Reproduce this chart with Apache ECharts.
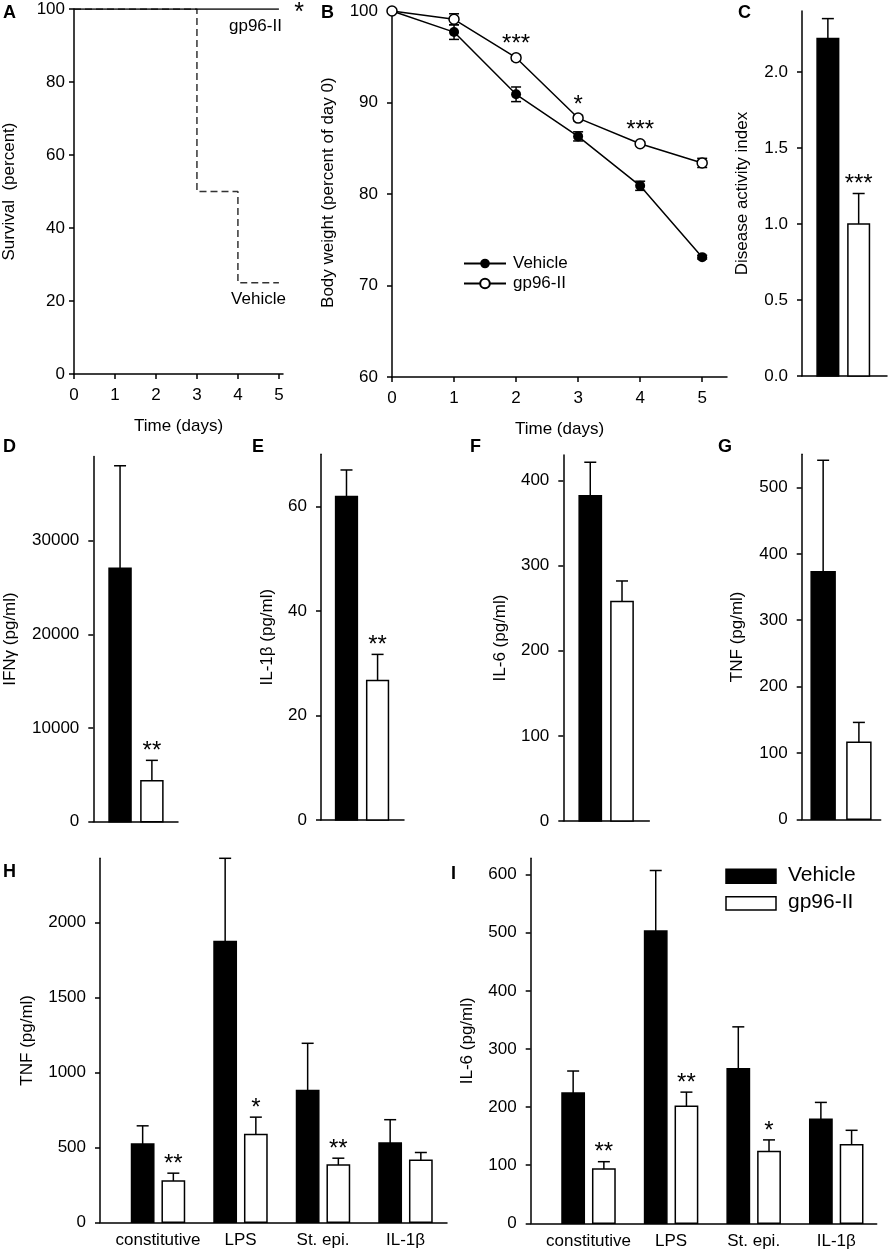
<!DOCTYPE html>
<html>
<head>
<meta charset="utf-8">
<script src="https://cdn.jsdelivr.net/npm/echarts@6/dist/echarts.min.js"></script>
<style>
  html, body { margin: 0; padding: 0; background: #fff; }
  #main { width: 888px; height: 1251px; }
</style>
</head>
<body>
<div id="main"></div>
<script>
// ---- data ----
// A: survival
var survVehDays = [0, 3, 4, 5];
var survVehicle = [100, 50, 25, 25];
var survGpDays = [0, 5];
var survGp96 = [100, 100];

// B: body weight
var bwDays = [0, 1, 2, 3, 4, 5];
var bwVehicle = [100, 97.7, 90.9, 86.3, 80.9, 73.1];
var bwVehicleErr = [0, 0.8, 0.8, 0.5, 0.5, 0.2];
var bwGp96 = [100, 99.1, 94.9, 88.3, 85.5, 83.4];
var bwGp96Err = [0, 0.6, 0.3, 0.3, 0.2, 0.5];
var bwSig = ['', '', '***', '*', '***', ''];

// C-G: vehicle vs gp96-II (mean, upper SEM)
var daiMean = [2.22, 1.0], daiErr = [0.13, 0.2], daiSig = ['', '***'];
var ifngMean = [27050, 4380], ifngErr = [10950, 2170], ifngSig = ['', '**'];
var il1bMean = [61.9, 26.7], il1bErr = [5.1, 5.0], il1bSig = ['', '**'];
var il6Mean = [382, 258], il6Err = [39.5, 24], il6Sig = ['', ''];
var tnfMean = [373, 116], tnfErr = [168, 30], tnfSig = ['', ''];

// H-I: ex vivo stimulation
var exCategories = ['constitutive', 'LPS', 'St. epi.', 'IL-1β'];
var exTnfVehicle = [522, 1875, 880, 530];
var exTnfVehicleErr = [122, 555, 315, 155];
var exTnfGp96 = [276, 586, 383, 415];
var exTnfGp96Err = [52, 116, 45, 51];
var exTnfSig = ['**', '*', '**', ''];
var exIl6Vehicle = [224, 503, 266, 179];
var exIl6VehicleErr = [38, 104, 72, 29];
var exIl6Gp96 = [93.5, 201.5, 123.4, 135];
var exIl6Gp96Err = [12.5, 24.2, 20.1, 25];
var exIl6Sig = ['**', '**', '*', ''];

// tick labels
var survXTicks = [0, 1, 2, 3, 4, 5], survYTicks = [0, 20, 40, 60, 80, 100];
var bwXTicks = [0, 1, 2, 3, 4, 5], bwYTicks = [60, 70, 80, 90, 100];
var daiTicks = [0, 0.5, 1.0, 1.5, 2.0];
var ifngTicks = [0, 10000, 20000, 30000];
var il1bTicks = [0, 20, 40, 60];
var il6Ticks = [0, 100, 200, 300, 400];
var tnfTicks = [0, 100, 200, 300, 400, 500];
var exTnfTicks = [0, 500, 1000, 1500, 2000];
var exIl6Ticks = [0, 100, 200, 300, 400, 500, 600];

var FONT = 'Liberation Sans, Arial, sans-serif';
var chart = echarts.init(document.getElementById('main'));

var grids = [
  { left: 74, top: 9, width: 209, height: 365 },      // A
  { left: 392, top: 8.3, width: 335, height: 368.7 }, // B
  { left: 802, top: 11, width: 85, height: 365 },     // C
  { left: 93.3, top: 456.4, width: 84.7, height: 365.3 }, // D
  { left: 321, top: 454.3, width: 83, height: 365.7 },    // E
  { left: 563.3, top: 455, width: 86, height: 366 },      // F
  { left: 801.7, top: 454.3, width: 79, height: 365 },    // G
  { left: 100, top: 858.3, width: 347, height: 364 },     // H
  { left: 530.7, top: 858.3, width: 346, height: 365 }    // I
];

var axLine = { show: true, onZero: false, lineStyle: { color: '#000', width: 1.5 } };

function xAx(gi, min, max, ticks, name, fmt) {
  return {
    type: 'value', gridIndex: gi, min: min, max: max,
    splitLine: { show: false }, axisLine: axLine,
    axisTick: ticks && !fmt ? { show: true, length: 5, lineStyle: { color: '#000', width: 1.5 }, customValues: ticks } : { show: false },
    axisLabel: ticks ? { show: true, customValues: ticks, margin: fmt ? 10 : 13, color: '#000', fontSize: 17, fontFamily: FONT, formatter: fmt } : { show: false },
    name: name || '', nameLocation: 'middle', nameGap: 44,
    nameTextStyle: { color: '#000', fontSize: 17, fontFamily: FONT }
  };
}

function yAx(gi, min, max, ticks, name, gap, dec, margin) {
  return {
    type: 'value', gridIndex: gi, min: min, max: max,
    splitLine: { show: false }, axisLine: axLine,
    axisTick: { show: true, length: 5, lineStyle: { color: '#000', width: 1.5 }, customValues: ticks },
    axisLabel: {
      show: true, customValues: ticks, margin: margin || 14, color: '#000', fontSize: 17, fontFamily: FONT,
      formatter: function (v) { return dec ? v.toFixed(dec) : String(v); }
    },
    name: name, nameLocation: 'middle', nameGap: gap,
    nameTextStyle: { color: '#000', fontSize: 17, fontFamily: FONT }
  };
}

function catFmt(v) { return exCategories[Math.round(v)] || ''; }

var xAxes = [
  xAx(0, 0, 5.1, survXTicks, 'Time (days)'),
  xAx(1, 0, 5.4, bwXTicks, 'Time (days)'),
  xAx(2, -0.84, 1.92),
  xAx(3, -0.84, 1.82),
  xAx(4, -0.82, 1.85),
  xAx(5, -0.85, 1.86),
  xAx(6, -0.6, 1.61),
  xAx(7, -0.703, 3.503, [0, 1, 2, 3], '', catFmt),
  xAx(8, -0.70, 3.49, [0, 1, 2, 3], '', catFmt)
];
var yAxes = [
  yAx(0, 0, 100, survYTicks, 'Survival  (percent)', 56, 0, 9),
  yAx(1, 60, 100.3, bwYTicks, 'Body weight (percent of day 0)', 55),
  yAx(2, 0, 2.4, daiTicks, 'Disease activity index', 51, 1),
  yAx(3, 0, 39000, ifngTicks, 'IFNγ (pg/ml)', 74),
  yAx(4, 0, 70, il1bTicks, 'IL-1β (pg/ml)', 45),
  yAx(5, 0, 430, il6Ticks, 'IL-6 (pg/ml)', 54),
  yAx(6, 0, 550, tnfTicks, 'TNF (pg/ml)', 56),
  yAx(7, 0, 2430, exTnfTicks, 'TNF (pg/ml)', 64),
  yAx(8, 0, 628, exIl6Ticks, 'IL-6 (pg/ml)', 55)
];

function starText(x, y, s) {
  return { type: 'text', x: x, y: y - 9,
    style: { text: s, font: '24px ' + FONT, align: 'center', verticalAlign: 'middle', fill: '#000' } };
}

// bars with one-sided error bar and significance stars
function barSeries(ax, means, errs, sigs, shift, wFrac, filled) {
  var data = means.map(function (m, i) { return [i, m, errs[i]]; });
  return {
    type: 'custom', xAxisIndex: ax, yAxisIndex: ax, clip: false, z: 3,
    data: data,
    renderItem: function (params, api) {
      var x = api.value(0) + shift;
      var base = api.coord([x, 0]);
      var top = api.coord([x, api.value(1)]);
      var hi = api.coord([x, api.value(1) + api.value(2)]);
      var w = api.size([wFrac, 0])[0];
      var cap = 12;
      var kids = [
        { type: 'line', shape: { x1: top[0], y1: top[1], x2: hi[0], y2: hi[1] }, style: { stroke: '#000', lineWidth: 1.5 } },
        { type: 'line', shape: { x1: hi[0] - cap / 2, y1: hi[1], x2: hi[0] + cap / 2, y2: hi[1] }, style: { stroke: '#000', lineWidth: 1.5 } },
        { type: 'rect', shape: { x: base[0] - w / 2, y: top[1], width: w, height: base[1] - top[1] },
          style: { fill: filled ? '#000' : '#fff', stroke: '#000', lineWidth: 1.5 } }
      ];
      var s = sigs && sigs[params.dataIndex];
      if (s) kids.push(starText(hi[0], hi[1], s));
      return { type: 'group', children: kids };
    }
  };
}

// two-sided error bars on line points
function errSeries(ax, xs, ys, es, sigs) {
  return {
    type: 'custom', xAxisIndex: ax, yAxisIndex: ax, clip: false, z: 1,
    data: xs.map(function (x, i) { return [x, ys[i], es[i]]; }),
    renderItem: function (params, api) {
      var lo = api.coord([api.value(0), api.value(1) - api.value(2)]);
      var hi = api.coord([api.value(0), api.value(1) + api.value(2)]);
      var kids = [];
      if (api.value(2) > 0) {
        kids.push({ type: 'line', shape: { x1: lo[0], y1: lo[1], x2: hi[0], y2: hi[1] }, style: { stroke: '#000', lineWidth: 1.5 } });
        kids.push({ type: 'line', shape: { x1: lo[0] - 5, y1: lo[1], x2: lo[0] + 5, y2: lo[1] }, style: { stroke: '#000', lineWidth: 1.5 } });
        kids.push({ type: 'line', shape: { x1: hi[0] - 5, y1: hi[1], x2: hi[0] + 5, y2: hi[1] }, style: { stroke: '#000', lineWidth: 1.5 } });
      }
      var s = sigs && sigs[params.dataIndex];
      if (s) {
        var p = api.coord([api.value(0), api.value(1)]);
        kids.push(starText(p[0], Math.min(hi[1], p[1] - 5) + 1, s));
      }
      return { type: 'group', children: kids };
    }
  };
}

// text placed next to a data point
function noteSeries(ax, pts, texts, dx, dy, size) {
  return {
    type: 'custom', xAxisIndex: ax, yAxisIndex: ax, clip: false, z: 5,
    data: pts,
    renderItem: function (params, api) {
      var p = api.coord([api.value(0), api.value(1)]);
      return { type: 'text', x: p[0] + dx, y: p[1] + dy,
        style: { text: texts[params.dataIndex], font: size + 'px ' + FONT, align: 'right', verticalAlign: 'middle', fill: '#000' } };
    }
  };
}

function pairs(xs, ys) { return xs.map(function (x, i) { return [x, ys[i]]; }); }

var series = [
  // A
  { type: 'line', name: 'A-vehicle', xAxisIndex: 0, yAxisIndex: 0, step: 'end', symbol: 'none',
    lineStyle: { color: '#333', width: 1.5, type: [7, 4] }, data: pairs(survVehDays, survVehicle), z: 2 },
  { type: 'line', name: 'A-gp96', xAxisIndex: 0, yAxisIndex: 0, symbol: 'none',
    lineStyle: { color: '#000', width: 1.5 }, data: pairs(survGpDays, survGp96), z: 3 },
  noteSeries(0, [[5, 100]], ['gp96-II'], 3, 17, 17),
  noteSeries(0, [[5, 25]], ['Vehicle'], 7, 17, 17),
  noteSeries(0, [[5, 100]], ['*'], 25, 4, 25),
  // B
  errSeries(1, bwDays, bwVehicle, bwVehicleErr),
  errSeries(1, bwDays, bwGp96, bwGp96Err, bwSig),
  { type: 'line', name: 'Vehicle', xAxisIndex: 1, yAxisIndex: 1, symbol: 'circle', symbolSize: 10,
    lineStyle: { color: '#000', width: 1.5 }, itemStyle: { color: '#000' }, data: pairs(bwDays, bwVehicle), z: 3 },
  { type: 'line', name: 'gp96-II', xAxisIndex: 1, yAxisIndex: 1, symbol: 'circle', symbolSize: 10,
    lineStyle: { color: '#000', width: 1.5 }, itemStyle: { color: '#fff', borderColor: '#000', borderWidth: 1.5 },
    data: pairs(bwDays, bwGp96), z: 4 },
  // C-G
  barSeries(2, [daiMean[0]], [daiErr[0]], [daiSig[0]], 0, 0.70, true),
  barSeries(2, [daiMean[1]], [daiErr[1]], [daiSig[1]], 1, 0.70, false),
  barSeries(3, [ifngMean[0]], [ifngErr[0]], [ifngSig[0]], 0, 0.69, true),
  barSeries(3, [ifngMean[1]], [ifngErr[1]], [ifngSig[1]], 1, 0.69, false),
  barSeries(4, [il1bMean[0]], [il1bErr[0]], [il1bSig[0]], 0, 0.70, true),
  barSeries(4, [il1bMean[1]], [il1bErr[1]], [il1bSig[1]], 1, 0.70, false),
  barSeries(5, [il6Mean[0]], [il6Err[0]], [il6Sig[0]], 0, 0.70, true),
  barSeries(5, [il6Mean[1]], [il6Err[1]], [il6Sig[1]], 1, 0.70, false),
  barSeries(6, [tnfMean[0]], [tnfErr[0]], [tnfSig[0]], 0, 0.67, true),
  barSeries(6, [tnfMean[1]], [tnfErr[1]], [tnfSig[1]], 1, 0.67, false),
  // H
  barSeries(7, exTnfVehicle, exTnfVehicleErr, null, -0.186, 0.27, true),
  barSeries(7, exTnfGp96, exTnfGp96Err, exTnfSig, 0.186, 0.27, false),
  // I
  barSeries(8, exIl6Vehicle, exIl6VehicleErr, null, -0.186, 0.27, true),
  barSeries(8, exIl6Gp96, exIl6Gp96Err, exIl6Sig, 0.186, 0.27, false)
];

function letter(t, x, y) {
  return { type: 'text', left: x, top: y, style: { text: t, font: 'bold 18px ' + FONT, fill: '#000' } };
}

var option = {
  animation: false,
  backgroundColor: '#fff',
  grid: grids,
  xAxis: xAxes,
  yAxis: yAxes,
  legend: {
    data: ['Vehicle', 'gp96-II'], orient: 'vertical', left: 458, top: 250,
    itemWidth: 42, itemHeight: 12, itemGap: 3, selectedMode: false,
    textStyle: { color: '#000', fontSize: 17, fontFamily: FONT, padding: [0, 0, 0, 2] }
  },
  graphic: [
    letter('A', 3, 4), letter('B', 321, 4), letter('C', 738, 4),
    letter('D', 3, 438), letter('E', 252, 438), letter('F', 470, 438), letter('G', 718, 438),
    letter('H', 3, 863), letter('I', 451, 865),
    // legend of panel I
    { type: 'rect', shape: { x: 726, y: 869.3, width: 50, height: 14 }, style: { fill: '#000', stroke: '#000', lineWidth: 1.5 } },
    { type: 'rect', shape: { x: 726, y: 896.7, width: 50, height: 13.3 }, style: { fill: '#fff', stroke: '#000', lineWidth: 1.5 } },
    { type: 'text', left: 788, top: 865, style: { text: 'Vehicle', font: '21px ' + FONT, fill: '#000' } },
    { type: 'text', left: 788, top: 892, style: { text: 'gp96-II', font: '21px ' + FONT, fill: '#000' } }
  ],
  series: series
};

chart.setOption(option);
</script>
</body>
</html>
